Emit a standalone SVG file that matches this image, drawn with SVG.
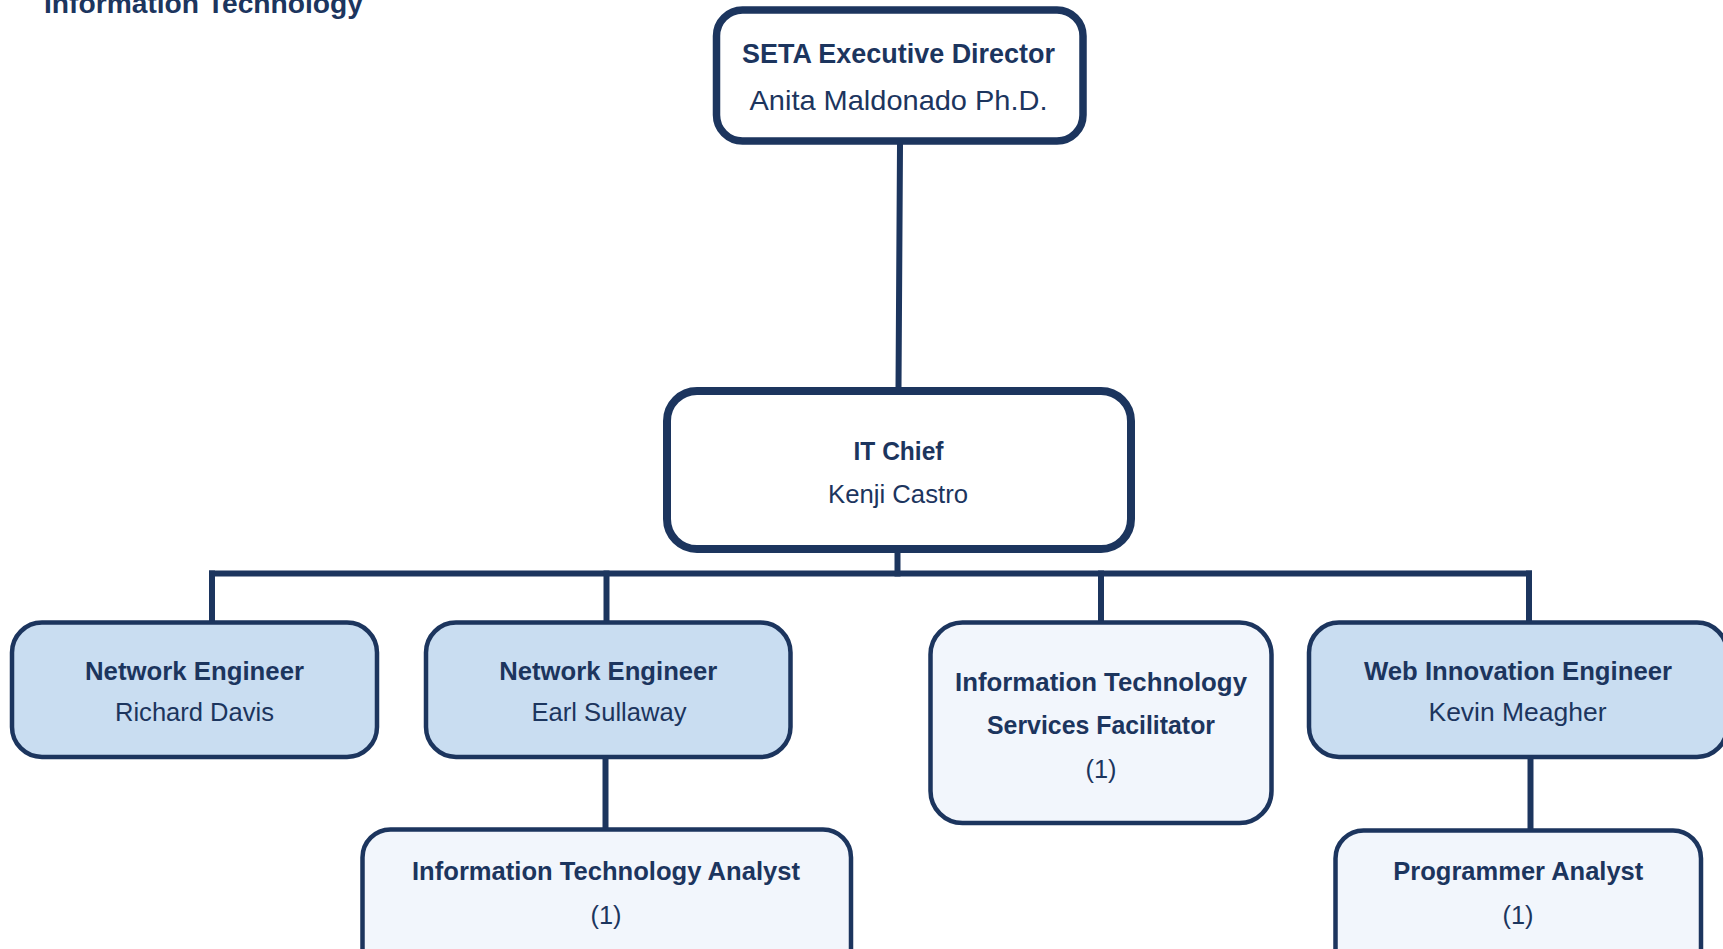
<svg xmlns="http://www.w3.org/2000/svg" width="1723" height="949" viewBox="0 0 1723 949">
<style>
  .t { font-family: "Liberation Sans", Arial, sans-serif; fill: #1C355E; text-anchor: middle; }
  .b { font-weight: bold; }
  .box { stroke: #1C355E; }
  .top { fill: #FFFFFF; }
  .mid { fill: #C9DDF1; }
  .low { fill: #F2F6FC; }
  .conn { stroke: #1C355E; stroke-width: 6; fill: none; stroke-linecap: square; }
</style>
<rect width="1723" height="949" fill="#FFFFFF"/>
<text class="t b" x="44" y="13" font-size="28" style="text-anchor:start" textLength="319" lengthAdjust="spacingAndGlyphs">Information Technology</text>

<g id="connectors">
  <path class="conn" d="M900 146 L898.5 387"/>
  <path class="conn" d="M897.5 553 V573.5"/>
  <path class="conn" d="M212 573.5 H1529"/>
  <path class="conn" d="M212 573.5 V620"/>
  <path class="conn" d="M606.5 573.5 V620"/>
  <path class="conn" d="M1101 573.5 V620"/>
  <path class="conn" d="M1529 573.5 V620"/>
  <path class="conn" d="M605.5 760 V827"/>
  <path class="conn" d="M1530.5 760 V827"/>
</g>

<g id="seta-director">
  <rect class="box top" x="716.5" y="10" width="366.5" height="131" rx="26" stroke-width="7.5"/>
  <text class="t b" x="898.5" y="63" font-size="27" textLength="313" lengthAdjust="spacingAndGlyphs">SETA Executive Director</text>
  <text class="t" x="898.5" y="110" font-size="28" textLength="298" lengthAdjust="spacingAndGlyphs">Anita Maldonado Ph.D.</text>
</g>

<g id="it-chief">
  <rect class="box top" x="667" y="391" width="464" height="158" rx="30" stroke-width="8"/>
  <text class="t b" x="898.5" y="460" font-size="25.5" textLength="90" lengthAdjust="spacingAndGlyphs">IT Chief</text>
  <text class="t" x="898" y="502.5" font-size="25.5" textLength="140" lengthAdjust="spacingAndGlyphs">Kenji Castro</text>
</g>

<g id="network-engineer-1">
  <rect class="box mid" x="12" y="622.5" width="365" height="134.5" rx="30" stroke-width="4.5"/>
  <text class="t b" x="194.5" y="680" font-size="25.5" textLength="219" lengthAdjust="spacingAndGlyphs">Network Engineer</text>
  <text class="t" x="194.5" y="721" font-size="25.5" textLength="159" lengthAdjust="spacingAndGlyphs">Richard Davis</text>
</g>

<g id="network-engineer-2">
  <rect class="box mid" x="426" y="622.5" width="364.5" height="134.5" rx="30" stroke-width="4.5"/>
  <text class="t b" x="608.3" y="680" font-size="25.5" textLength="218" lengthAdjust="spacingAndGlyphs">Network Engineer</text>
  <text class="t" x="609" y="721" font-size="25.5" textLength="155" lengthAdjust="spacingAndGlyphs">Earl Sullaway</text>
</g>

<g id="it-services-facilitator">
  <rect class="box low" x="930.5" y="622.5" width="341" height="200.5" rx="32" stroke-width="4.5"/>
  <text class="t b" x="1101" y="691" font-size="25.5" textLength="292" lengthAdjust="spacingAndGlyphs">Information Technology</text>
  <text class="t b" x="1101" y="734" font-size="25.5" textLength="228" lengthAdjust="spacingAndGlyphs">Services Facilitator</text>
  <text class="t" x="1101" y="778" font-size="25.5" textLength="31" lengthAdjust="spacingAndGlyphs">(1)</text>
</g>

<g id="web-innovation-engineer">
  <rect class="box mid" x="1309" y="622.5" width="418" height="134.5" rx="30" stroke-width="4.5"/>
  <text class="t b" x="1518" y="680" font-size="25.5" textLength="308" lengthAdjust="spacingAndGlyphs">Web Innovation Engineer</text>
  <text class="t" x="1517.5" y="721" font-size="25.5" textLength="178" lengthAdjust="spacingAndGlyphs">Kevin Meagher</text>
</g>

<g id="it-analyst">
  <rect class="box low" x="362.5" y="829.5" width="488.5" height="150" rx="28" stroke-width="4.5"/>
  <text class="t b" x="606" y="879.5" font-size="25.5" textLength="388" lengthAdjust="spacingAndGlyphs">Information Technology Analyst</text>
  <text class="t" x="606" y="923.5" font-size="25.5" textLength="31" lengthAdjust="spacingAndGlyphs">(1)</text>
</g>

<g id="programmer-analyst">
  <rect class="box low" x="1335.5" y="830.5" width="365.5" height="150" rx="28" stroke-width="4.5"/>
  <text class="t b" x="1518.3" y="879.5" font-size="25.5" textLength="250" lengthAdjust="spacingAndGlyphs">Programmer Analyst</text>
  <text class="t" x="1518" y="923.5" font-size="25.5" textLength="31" lengthAdjust="spacingAndGlyphs">(1)</text>
</g>
</svg>
